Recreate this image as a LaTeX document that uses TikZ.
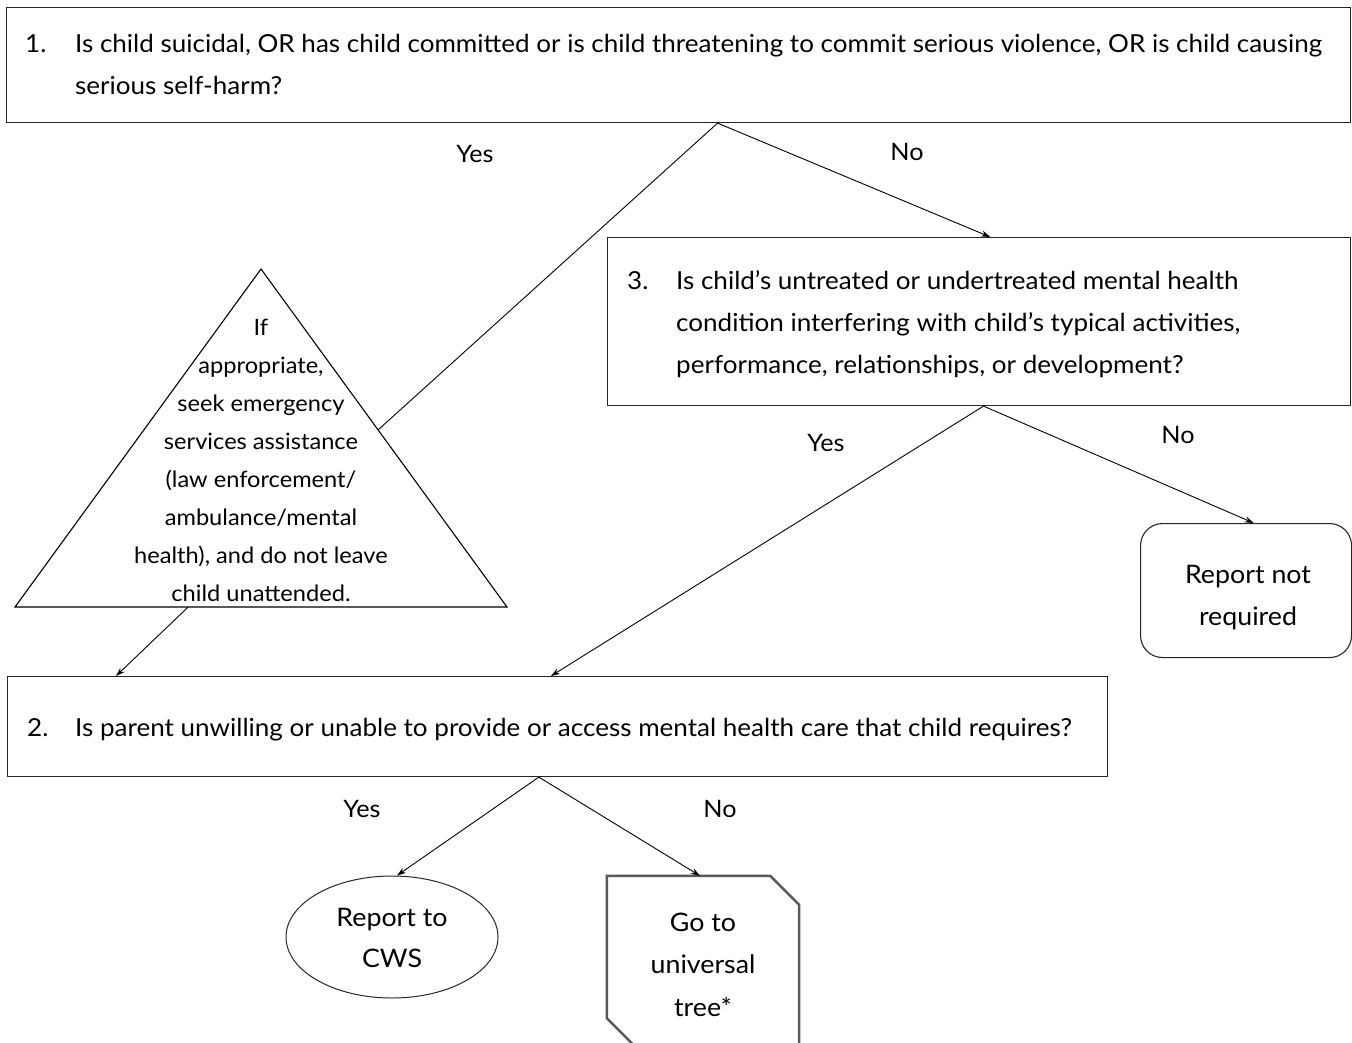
\documentclass[tikz,border=0pt]{standalone}
\usepackage{fontspec}
\setmainfont{Lato}[FakeStretch=1.05]
\usetikzlibrary{arrows.meta,shapes.geometric,calc}
\begin{document}
\begin{tikzpicture}[x=1pt,y=-1pt,
  box/.style={draw=black!85,line width=1.1pt,inner sep=0pt,anchor=north west},
  txt/.style={inner sep=0pt,font=\fontsize{24.8}{42}\selectfont,align=left,anchor=north west},
  ctxt/.style={inner sep=0pt,font=\fontsize{25.5}{42}\selectfont,align=center,anchor=north},
  lbl/.style={inner sep=0pt,font=\fontsize{24}{28}\selectfont,anchor=base},
  arr/.style={line width=0.9pt,-{Stealth[length=9pt,width=6pt]}},
  link/.style={line width=0.9pt}]
\useasboundingbox (0,0) rectangle (1352,1042);
\clip (0,0) rectangle (1352,1042);

% question boxes
\node[box,minimum width=1344pt,minimum height=115pt] (q1) at (6,7) {};
\node[box,minimum width=743pt,minimum height=168pt] (q3) at (607,237) {};
\node[box,minimum width=1100pt,minimum height=100pt] (q2) at (7,676) {};

\node[txt] (n1) at (25,32) {\rule{0pt}{20pt}1.};
\node[txt] (t1) at (75,32) {\rule{0pt}{20pt}Is child suicidal, OR has child committed or is child threatening to commit serious violence, OR is child causing\\serious self-harm?};
\node[txt] (n3) at (627,269) {\rule{0pt}{20pt}3.};
\node[txt] (t3) at (676,269) {\rule{0pt}{20pt}Is child’s untreated or undertreated mental health\\condition interfering with child’s typical activities,\\performance, relationships, or development?};
\node[txt] (n2) at (27,716) {\rule{0pt}{20pt}2.};
\node[txt] (t2) at (75,716) {\rule{0pt}{20pt}Is parent unwilling or unable to provide or access mental health care that child requires?};

% emergency triangle
\coordinate (tA) at (261,269);
\coordinate (tL) at (15,607);
\coordinate (tR) at (507,607);
\draw[line width=1.1pt,line join=miter] (tA) -- (tR) -- (tL) -- cycle;
\node[inner sep=0pt,font=\fontsize{22.5}{38}\selectfont,align=center,anchor=north] (tri) at (261,315)
  {\rule{0pt}{20pt}If\\appropriate,\\seek emergency\\services assistance\\(law enforcement/\\ambulance/mental\\health), and do not leave\\child unattended.};

% outcomes
\node[box,rounded corners=22pt,minimum width=211pt,minimum height=134pt] (rnr) at (1140,523) {};
\node[ctxt] (rnrt) at (1248,561) {\rule{0pt}{22pt}Report not\\required};
\node[draw=black!85,line width=1pt,ellipse,minimum width=212pt,minimum height=122pt,inner sep=0pt] (cws) at (392,937) {};
\node[ctxt,font=\fontsize{25.5}{41}\selectfont] (cwst) at (392,904) {\rule{0pt}{22pt}Report to\\CWS};
\node[inner sep=0pt,minimum width=192pt,minimum height=171pt] (univ) at (703,961.5) {};
\draw[draw=black!65,line width=2.5pt,line join=miter]
  (univ.north west) -- ($(univ.north east)+(-29,0)$) -- ($(univ.north east)+(0,29)$)
  -- (univ.south east) -- ($(univ.south west)+(29,0)$) -- ($(univ.south west)+(0,-29)$) -- cycle;
\node[ctxt,font=\fontsize{25.5}{42.5}\selectfont] (univt) at (703,909) {\rule{0pt}{22pt}Go to\\universal\\tree*};

% connectors
\draw[link] ($(q1.south west)!0.529!(q1.south east)$) -- ($(tA)!0.476!(tR)$);
\draw[arr] ($(q1.south west)!0.529!(q1.south east)$) -- ($(q3.north west)!0.515!(q3.north east)$);
\draw[arr] ($(tL)!0.352!(tR)$) -- ($(q2.north west)!0.099!(q2.north east)$);
\draw[arr] ($(q3.south west)!0.506!(q3.south east)$) -- ($(q2.north west)!0.494!(q2.north east)$);
\draw[arr] ($(q3.south west)!0.506!(q3.south east)$) -- ($(rnr.north west)!0.536!(rnr.north east)$);
\draw[arr] ($(q2.south west)!0.483!(q2.south east)$) -- ($(cws.north)+(5,0)$);
\draw[arr] ($(q2.south west)!0.483!(q2.south east)$) -- ($(univ.north)+(-3,0)$);

% branch labels
\node[lbl] (y1) at (475,162) {Yes};
\node[lbl] (no1) at (907,160) {No};
\node[lbl] (y3) at (826,451) {Yes};
\node[lbl] (no3) at (1178,443) {No};
\node[lbl] (y2) at (362,817) {Yes};
\node[lbl] (no2) at (720,817) {No};
\end{tikzpicture}
\end{document}
